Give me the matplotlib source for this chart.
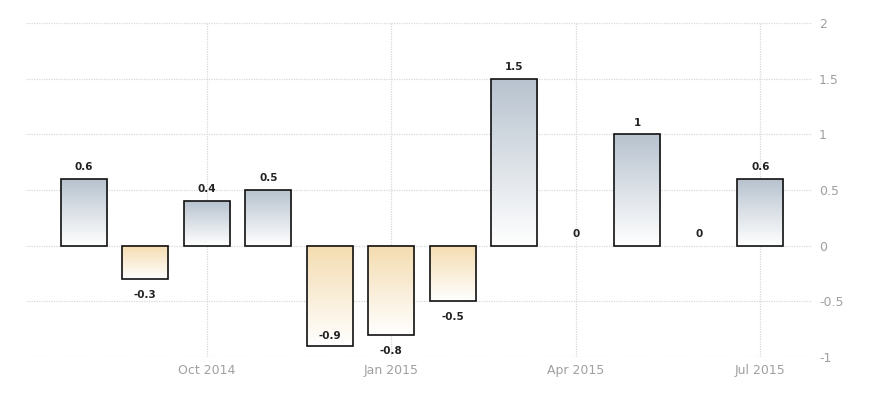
import numpy as np
import matplotlib
matplotlib.use("Agg")
import matplotlib.pyplot as plt
from matplotlib.colors import LinearSegmentedColormap

months = ["Aug 2014", "Sep 2014", "Oct 2014", "Nov 2014", "Dec 2014", "Jan 2015",
          "Feb 2015", "Mar 2015", "Apr 2015", "May 2015", "Jun 2015", "Jul 2015"]
values = [0.6, -0.3, 0.4, 0.5, -0.9, -0.8, -0.5, 1.5, 0, 1, 0, 0.6]
tick_labels = ["Oct 2014", "Jan 2015", "Apr 2015", "Jul 2015"]

fig = plt.figure(figsize=(8.88, 4), dpi=100)
ax = fig.add_axes([0.0293, 0.1075, 0.8851, 0.835])

pos_cmap = LinearSegmentedColormap.from_list("pos", ["#ffffff", "#b8c3cf"])
neg_cmap = LinearSegmentedColormap.from_list("neg", ["#ffffff", "#f4dcb0"])
grad = np.linspace(0, 1, 100).reshape(-1, 1)
ymin, ymax = -1, 2

x = np.arange(len(values))
w = 0.75
lbl = dict(ha="center", fontsize=7.5, color="#222222", fontweight="semibold", zorder=4)
for xi, v in zip(x, values):
    if v > 0:
        # dunkel oben, weiss unten
        ax.imshow(grad, extent=[xi - w / 2, xi + w / 2, 0, v], origin="lower",
                  cmap=pos_cmap, aspect="auto", zorder=2)
        ax.text(xi, v + 0.06, f"{v:g}", va="bottom", **lbl)
    elif v < 0:
        ax.imshow(grad, extent=[xi - w / 2, xi + w / 2, v, 0], origin="lower",
                  cmap=neg_cmap, aspect="auto", zorder=2)
        if v - 0.2 < ymin:
            # kein Platz unter dem Balken -> Beschriftung innen
            ax.text(xi, v + 0.04, f"{v:g}", va="bottom", **lbl)
        else:
            ax.text(xi, v - 0.1, f"{v:g}", va="top", **lbl)
    else:
        ax.text(xi, 0.06, "0", va="bottom", **lbl)

nz = [i for i, v in enumerate(values) if v != 0]
ax.bar([x[i] for i in nz], [values[i] for i in nz], width=w, facecolor="none",
       edgecolor="#111111", linewidth=1.2, zorder=3)

ax.set_xlim(-0.94, 11.84)
ax.set_ylim(ymin, ymax)
yt = np.arange(-1, 2.01, 0.5)
ax.set_yticks(yt)
ax.set_yticklabels([f"{t:g}" for t in yt])
ax.set_xticks([months.index(t) for t in tick_labels])
ax.set_xticklabels(tick_labels)

ax.yaxis.tick_right()
ax.tick_params(axis="both", length=0, colors="#a0a0a0", labelsize=9)
ax.tick_params(axis="y", pad=5)
ax.tick_params(axis="x", pad=5)
for s in ax.spines.values():
    s.set_visible(False)
ax.grid(True, color="#d8d8d8", linestyle=(0, (1, 1)), linewidth=0.9, zorder=0)
ax.set_axisbelow(True)

fig.savefig("out.png", dpi=100)
